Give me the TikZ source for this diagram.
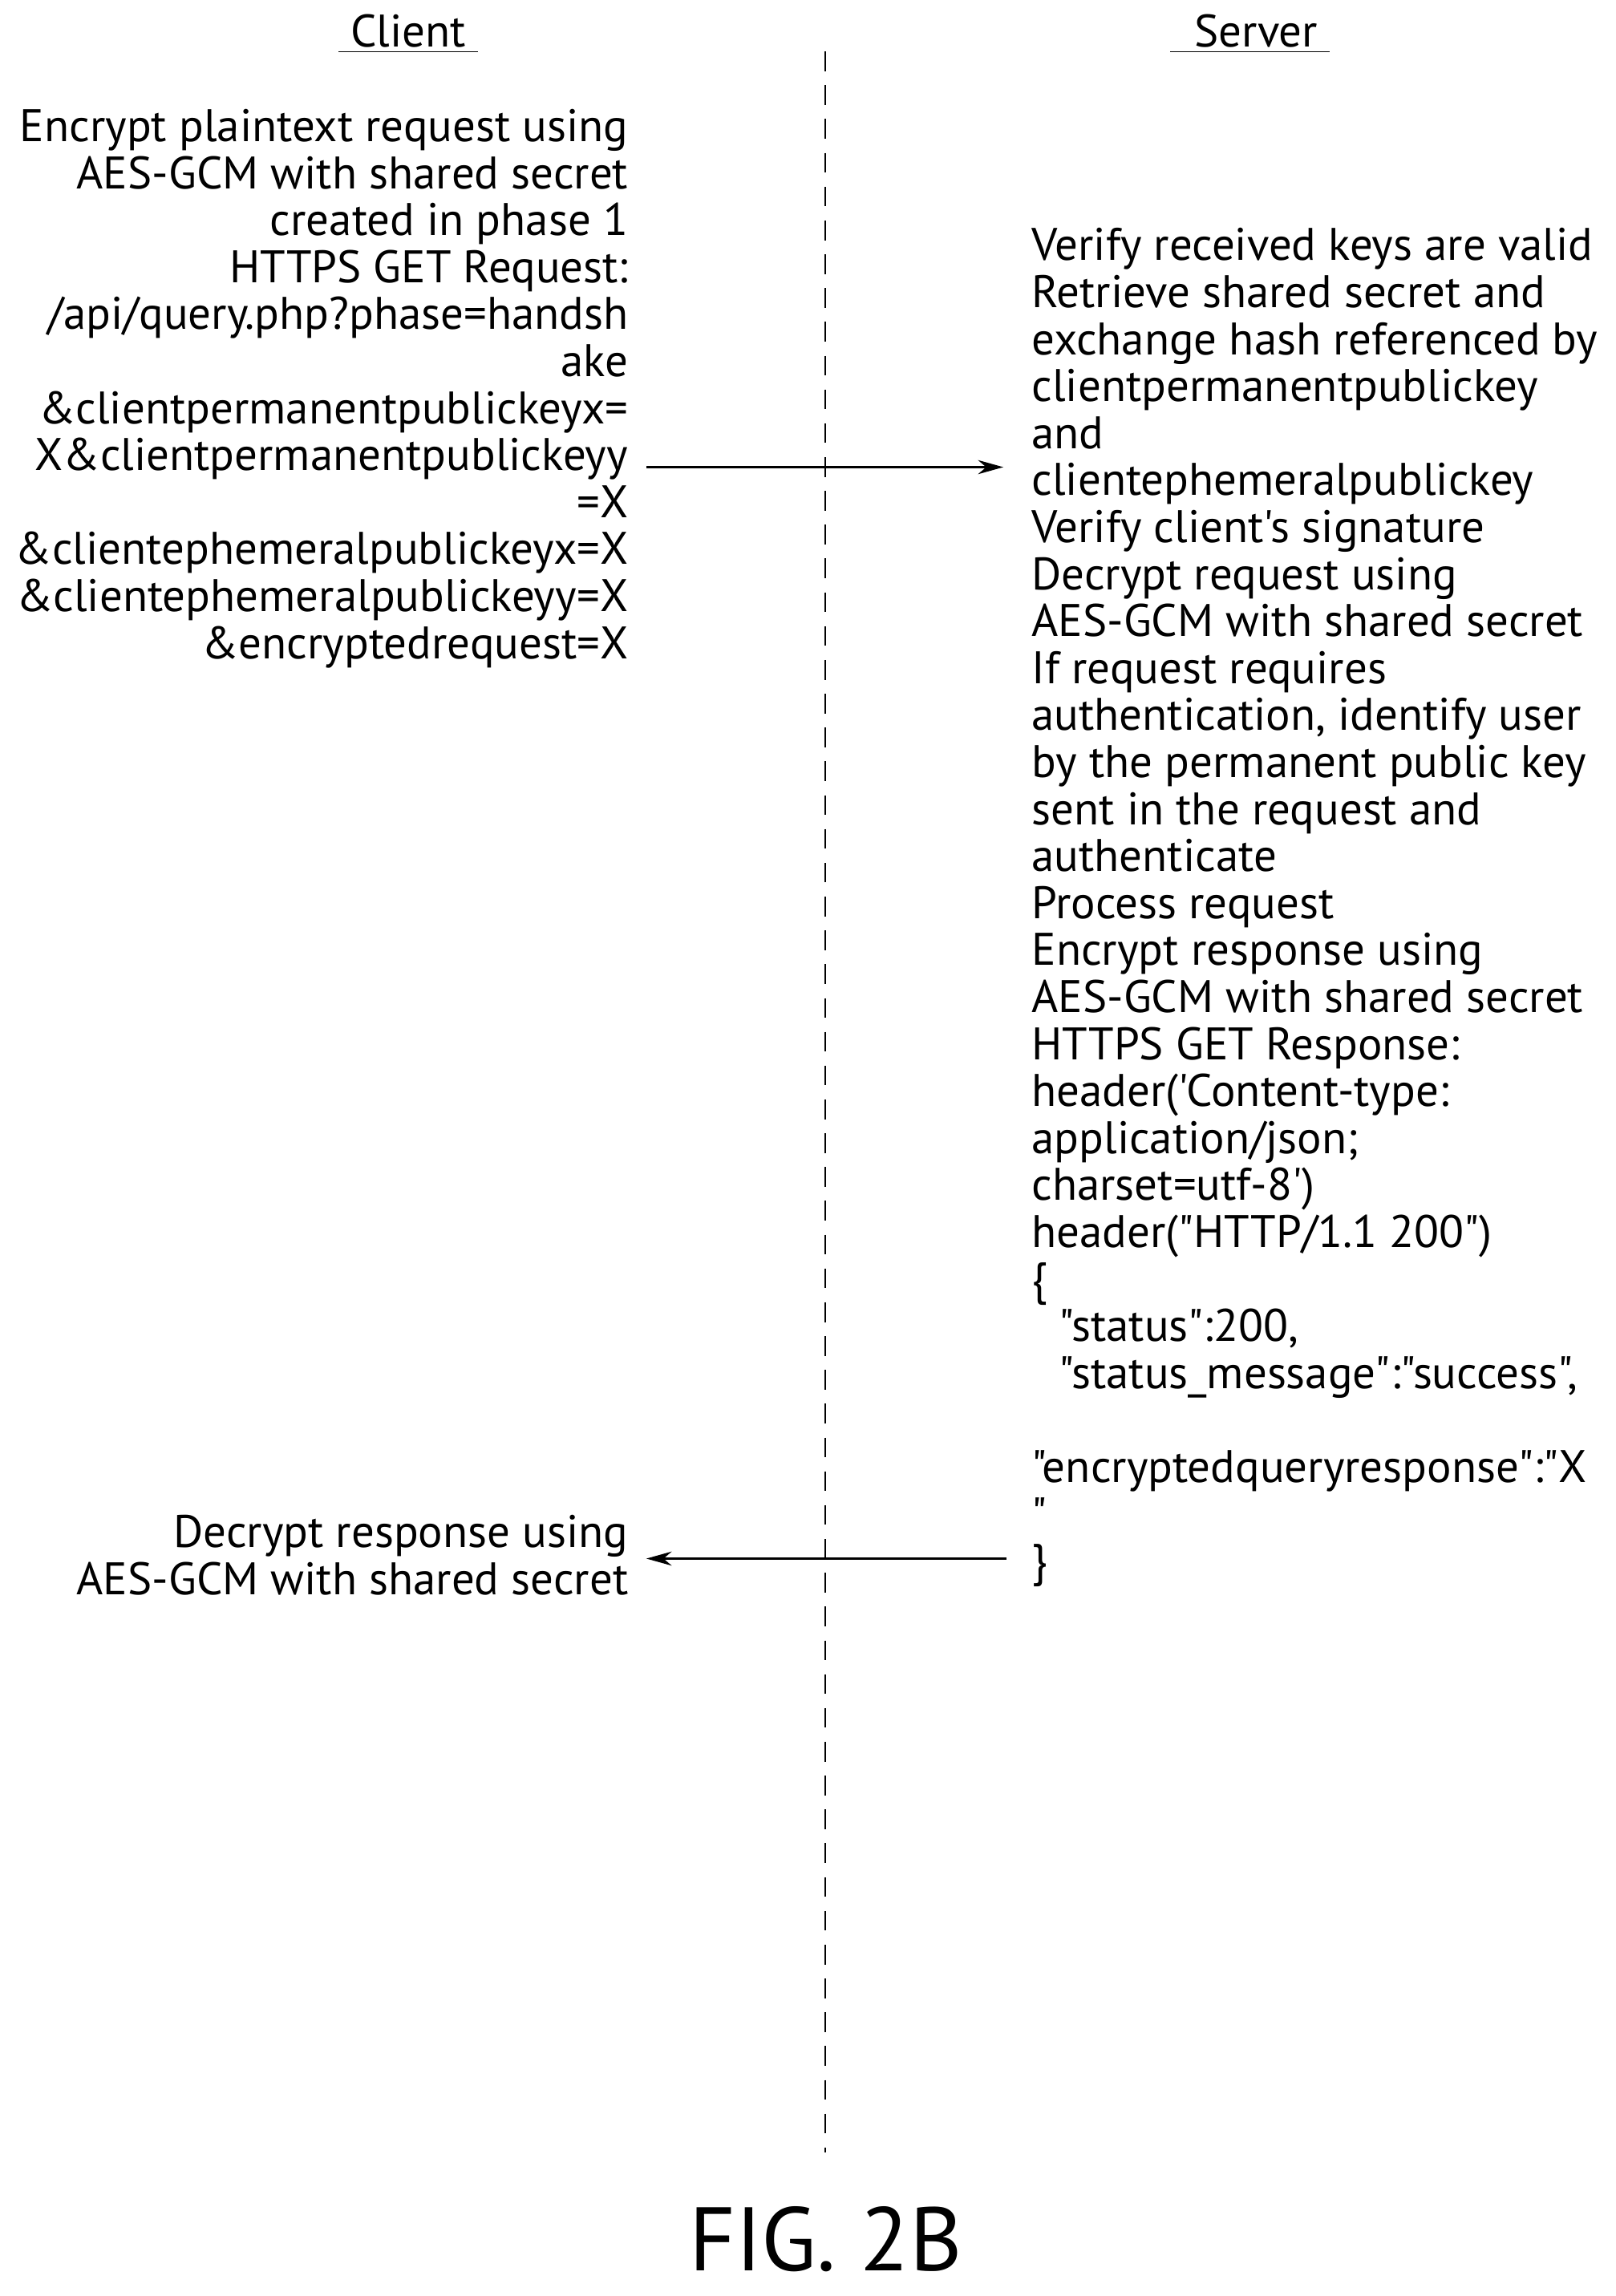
\documentclass[tikz,border=0pt]{standalone}
\usepackage{fontspec}
\setmainfont{PT Sans}[Ligatures=TeXOff]
\usetikzlibrary{arrows.meta}
\begin{document}
\begin{tikzpicture}[x=0.01832cm,y=-0.01832cm,
  txt/.style={inner sep=0pt,font=\fontsize{16.2}{16.68}\selectfont},
  msg/.style={-{Stealth[length=9pt,width=5pt]},line width=0.6pt},
  lbl/.style={inner sep=0pt,font=\fontsize{16.2}{16.68}\selectfont}]
\useasboundingbox (0,0) rectangle (1100,1563);
\node[lbl,anchor=base] (client) at (278,32) {\underline{\ Client\ }};
\node[lbl,anchor=base] (server) at (851,32) {\underline{\ \ Server\ }};
\coordinate (top) at (562,35);
\coordinate (bot) at (562,1465);
\draw[dash pattern=on 7pt off 5pt,line width=0.6pt] (top) -- (bot);
\node[txt,anchor=north east,align=right] (c1) at (428,74) {Encrypt plaintext request using\\
AES-GCM with shared secret\\
created in phase 1\\
HTTPS GET Request:\\
/api/query.php?phase=handsh\\
ake\\
\&clientpermanentpublickeyx=\\
X\&clientpermanentpublickeyy\\
=X\\
\&clientephemeralpublickeyx=X\\
\&clientephemeralpublickeyy=X\\
\&encryptedrequest=X};
\node[txt,anchor=north west,align=left] (s1) at (702,155) {Verify received keys are valid\\
Retrieve shared secret and\\
exchange hash referenced by\\
clientpermanentpublickey\\
and\\
clientephemeralpublickey\\
Verify client's signature\\
Decrypt request using\\
AES-GCM with shared secret\\
If request requires\\
authentication, identify user\\
by the permanent public key\\
sent in the request and\\
authenticate\\
Process request\\
Encrypt response using\\
AES-GCM with shared secret\\
HTTPS GET Response:\\
header('Content-type:\\
application/json;\\
charset=utf-8')\\
header("HTTP/1.1 200")\\
\{\\
\hspace*{0.6em}"status":200,\\
\hspace*{0.6em}"status\_message":"success",\\
\mbox{}\\
"encryptedqueryresponse":"X\\
"\\
\}};
\node[txt,anchor=north east,align=right] (c2) at (428,1031) {Decrypt response using\\
AES-GCM with shared secret};
\coordinate (a1s) at (440,318);
\coordinate (a1e) at (683,318);
\coordinate (a2s) at (685,1061);
\coordinate (a2e) at (440,1061);
\draw[msg] (a1s) -- (a1e);
\draw[msg] (a2s) -- (a2e);
\node[inner sep=0pt,anchor=base,font=\fontsize{32}{38}\selectfont] (fig) at (562,1546) {FIG. 2B};
\end{tikzpicture}
\end{document}
